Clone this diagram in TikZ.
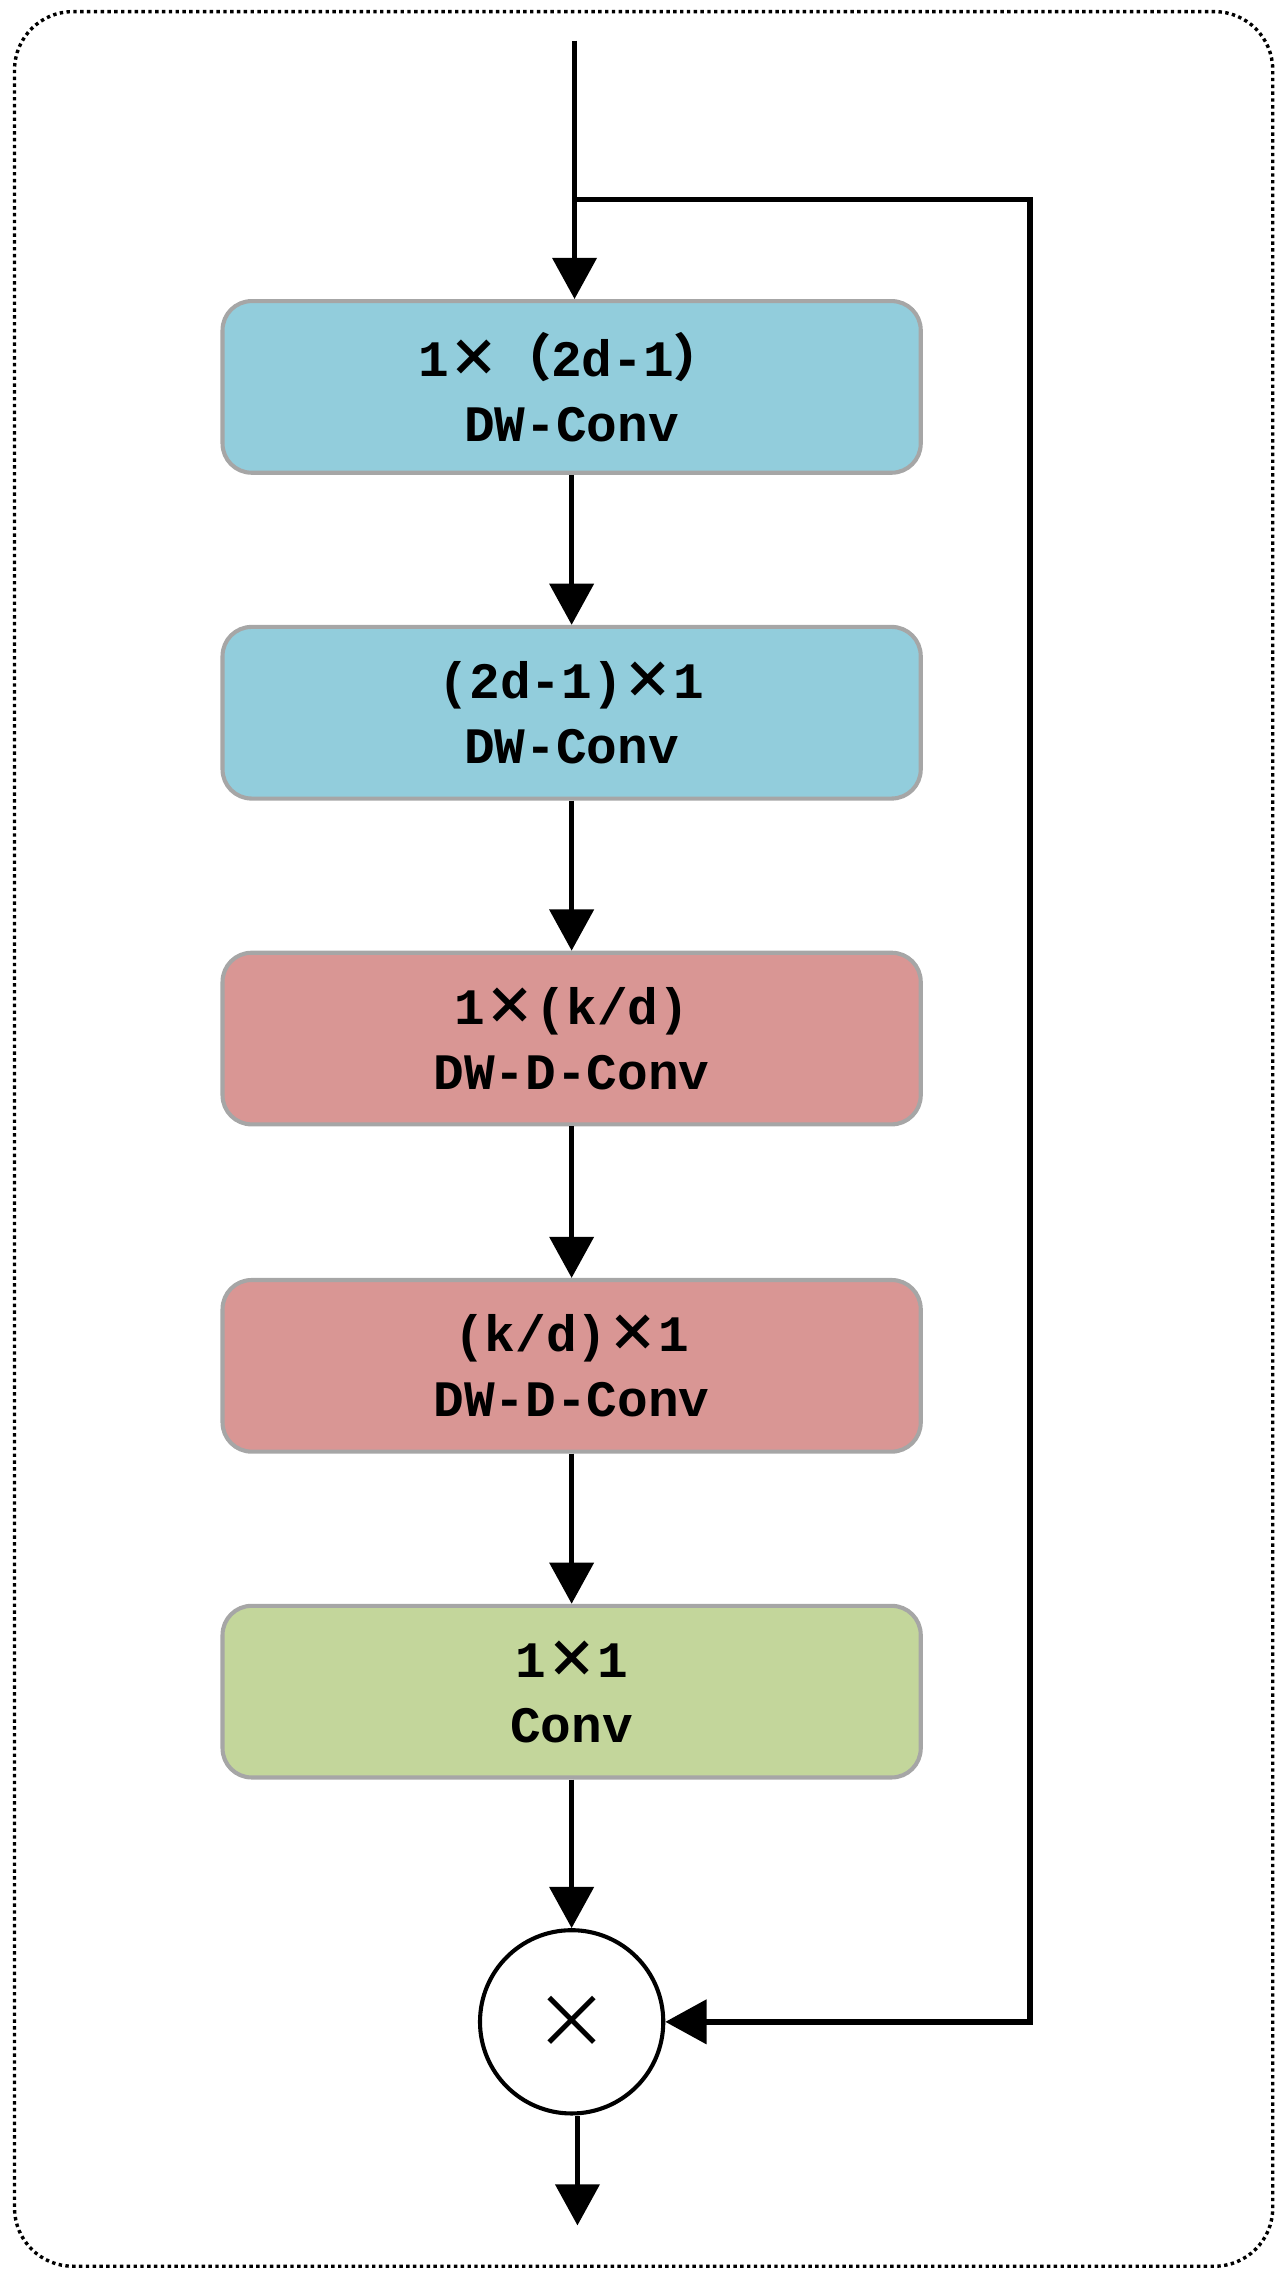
\documentclass[tikz,border=0pt]{standalone}
\usepackage{fontspec}
\setmainfont{Liberation Mono}
\newfontfamily\cjk{Noto Sans CJK SC}
\usetikzlibrary{arrows.meta}
\definecolor{cblue}{HTML}{92CDDC}
\definecolor{cred}{HTML}{D99694}
\definecolor{cgray}{HTML}{A6A6A6}
\definecolor{cgreen}{HTML}{C3D69B}
\newcommand{\tms}{{\cjk ×}}
\begin{document}
\begin{tikzpicture}[x=0.03cm,y=-0.03cm,
  box/.style={draw=cgray,line width=2.4pt,rounded corners=0.6cm,minimum width=14.4cm,minimum height=3.54cm,align=center,font=\fontsize{30}{38}\selectfont\bfseries,inner sep=0pt},
  arr/.style={line width=3.2pt,-{Triangle[length=0.85cm,width=0.9cm]}},
  ln/.style={line width=3.2pt}]
\useasboundingbox (0,0) rectangle (880,1562);
\draw[dotted,line width=2pt,rounded corners=1.2cm] (10,8) rectangle (875,1558);
\node[box,fill=cblue] (b1) at (393,266) {1\tms{\cjk（}2d-1{\cjk）}\\DW-Conv};
\node[box,fill=cblue] (b2) at (393,490) {(2d-1)\tms1\\DW-Conv};
\node[box,fill=cred] (b3) at (393,714) {1\tms(k/d)\\DW-D-Conv};
\node[box,fill=cred] (b4) at (393,939) {(k/d)\tms1\\DW-D-Conv};
\node[box,fill=cgreen] (b5) at (393,1163) {1\tms1\\Conv};
\node[draw,circle,line width=2.4pt,minimum size=3.78cm,inner sep=0pt,font=\fontsize{44}{44}\selectfont] (m) at (393,1390) {\tms};
\coordinate (top) at (395,28);
\coordinate (br) at (395,137);
\coordinate (rc) at (708,1390);
\coordinate (out) at (397,1530);
\draw[arr] (top) -- (b1.north -| top);
\draw[arr,line join=miter] (br) -| (rc) -- (m.east);
\draw[arr] (b1) -- (b2);
\draw[arr] (b2) -- (b3);
\draw[arr] (b3) -- (b4);
\draw[arr] (b4) -- (b5);
\draw[arr] (b5) -- (m);
\draw[arr] (m.south -| out) -- (out);
\end{tikzpicture}
\end{document}
